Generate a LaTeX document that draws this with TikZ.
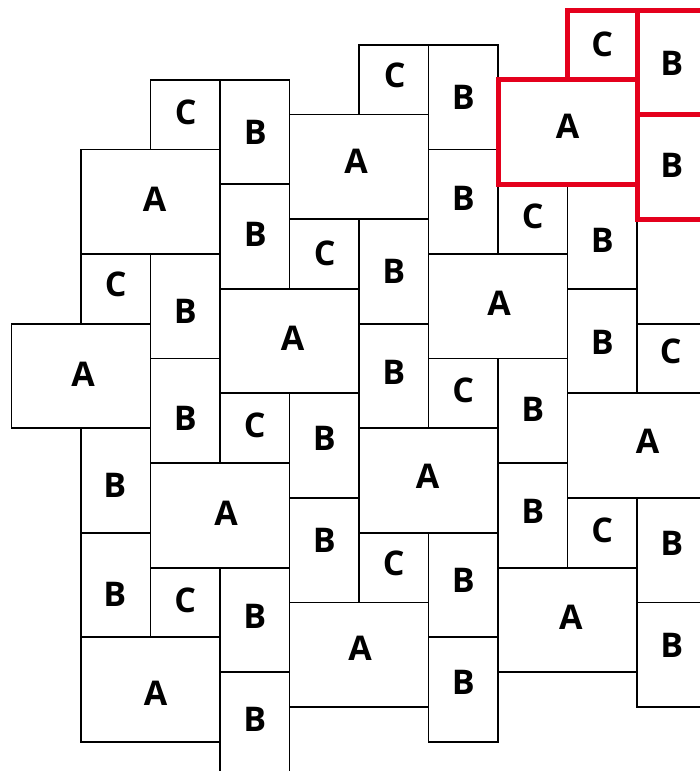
\documentclass[tikz,border=0pt]{standalone}
\usepackage{fontspec}
\setmainfont{Open Sans}
\definecolor{tilered}{RGB}{228,0,28}
% \tile[style]{name}{col}{halfrow}{width}{height in half units}{text}{dx}{dy}
\newcommand\tile[9][tile]{%
  \node[#1, minimum width={#5*69.5pt}, minimum height={#6*34.85pt}] (#2) at ({11.5+69.5*#3},{10+34.85*#4}) {};
  \node[lbl] (#2-t) at ([shift={(#8,#9)}]#2.center) {#7};}
\begin{document}
\begin{tikzpicture}[x=1pt,y=-1pt,
  tile/.style={draw=black, line width=1.8pt, rectangle, inner sep=0pt, outer sep=0pt, anchor=north west},
  redtile/.style={tile, draw=tilered, line width=5pt},
  lbl/.style={inner sep=0pt, outer sep=0pt, anchor=center, text=black, font=\fontsize{34}{34}\selectfont\bfseries}]
\useasboundingbox (0,0) rectangle (700,771);
\clip (0,0) rectangle (700,771);
% column 0/1
\tile{a0}{0}{9}{2}{3}{A}{2}{-2}
\tile{a1}{1}{4}{2}{3}{A}{4}{-2}
\tile{c1}{1}{7}{1}{2}{C}{0}{-4}
\tile{b1a}{1}{12}{1}{3}{B}{-1}{4.5}
\tile{b1b}{1}{15}{1}{3}{B}{-1}{9}
\tile{a1b}{1}{18}{2}{3}{A}{5}{4}
% column 2
\tile{c2}{2}{2}{1}{2}{C}{0.5}{-2.5}
\tile{b2a}{2}{7}{1}{3}{B}{0}{5.5}
\tile{b2b}{2}{10}{1}{3}{B}{0}{7.5}
\tile{a2}{2}{13}{2}{3}{A}{6}{-2}
\tile{c2b}{2}{16}{1}{2}{C}{0}{-2.5}
% column 3
\tile{b3a}{3}{2}{1}{3}{B}{0.5}{0}
\tile{b3b}{3}{5}{1}{3}{B}{0.5}{-2.3}
\tile{a3}{3}{8}{2}{3}{A}{3}{-2.8}
\tile{c3}{3}{11}{1}{2}{C}{0}{-3.2}
\tile{b3c}{3}{16}{1}{3}{B}{0}{-4}
\tile{b3d}{3}{19}{1}{3}{B}{0}{-5.2}
% column 4
\tile{a4}{4}{3}{2}{3}{A}{-3}{-6}
\tile{c4}{4}{6}{1}{2}{C}{0.5}{-1}
\tile{b4a}{4}{11}{1}{3}{B}{0}{-7.3}
\tile{b4b}{4}{14}{1}{3}{B}{0}{-9.4}
\tile{a4b}{4}{17}{2}{3}{A}{1}{-6.4}
% column 5
\tile{c5}{5}{1}{1}{2}{C}{1}{-4.7}
\tile{b5a}{5}{6}{1}{3}{B}{0}{0}
\tile{b5b}{5}{9}{1}{3}{B}{0}{-3.4}
\tile{a5}{5}{12}{2}{3}{A}{-1}{-3.8}
\tile{c5b}{5}{15}{1}{2}{C}{0}{-4.3}
% column 6
\tile{b6a}{6}{1}{1}{3}{B}{0}{0}
\tile{b6b}{6}{4}{1}{3}{B}{0}{-3.4}
\tile{a6}{6}{7}{2}{3}{A}{1}{-2.9}
\tile{c6}{6}{10}{1}{2}{C}{0}{-3.3}
\tile{b6c}{6}{15}{1}{3}{B}{0}{-4.2}
\tile{b6d}{6}{18}{1}{3}{B}{0}{-7.1}
% column 7
\tile{c7}{7}{5}{1}{2}{C}{0}{-2.4}
\tile{b7a}{7}{10}{1}{3}{B}{0}{-1.6}
\tile{b7b}{7}{13}{1}{3}{B}{0}{-4}
\tile{a7b}{7}{16}{2}{3}{A}{3.3}{-2.4}
% column 8
\tile{b8a}{8}{5}{1}{3}{B}{0}{3.5}
\tile{b8b}{8}{8}{1}{3}{B}{0}{1.4}
\tile{a8}{8}{11}{2}{3}{A}{10.5}{-3.9}
\tile{c8b}{8}{14}{1}{2}{C}{0}{-2.7}
% column 9
\tile{c9}{9}{9}{1}{2}{C}{-1}{-6.8}
\tile{b9c}{9}{14}{1}{3}{B}{0}{-6.9}
\tile{b9d}{9}{17}{1}{3}{B}{0}{-8.9}
% highlighted tiles
\tile[redtile]{ra}{7}{2}{2}{3}{A}{0}{-5.3}
\tile[redtile]{rc}{8}{0}{1}{2}{C}{0}{0}
\tile[redtile]{rba}{9}{0}{1}{3}{B}{0}{0.8}
\tile[redtile]{rbb}{9}{3}{1}{3}{B}{0}{-1.8}
\end{tikzpicture}
\end{document}
